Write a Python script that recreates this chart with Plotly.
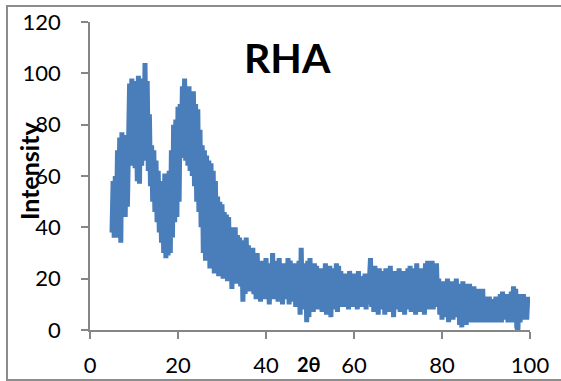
import numpy as np
import plotly.graph_objects as go

# XRD pattern of RHA
two_theta_start = 5.0
two_theta_step = 0.25
intensity = [
    38, 58, 36, 60, 40,
    70, 36, 75, 34, 77, 45, 76, 44, 74, 48,
    66, 96, 64, 98, 66, 95, 63, 97, 58, 99, 57, 96, 64, 98, 66, 104, 68, 97,
    62, 84, 56, 72, 50, 70, 46, 66, 42, 62, 38, 58, 34, 56,
    30, 61, 28, 56, 29, 62,
    30, 70, 36, 80, 42, 82, 44, 87, 50, 88,
    67, 95, 68, 98, 66, 94, 64, 95, 62, 92, 60, 93,
    56, 88, 50, 86, 46, 78, 40, 72, 30, 70,
    27, 68, 30, 66, 24, 65, 28, 62, 22, 58, 26, 52, 21, 50, 24, 49,
    20, 46, 23, 45, 19, 44, 22, 40, 16, 39, 20, 40, 18, 37, 21, 36,
    17, 35, 11, 34, 14, 36, 18, 33, 15, 30, 17, 32, 14, 28,
    12, 30, 13, 26, 11, 27, 15, 25, 12, 28, 14, 24, 10, 26, 13, 30, 12, 27, 15, 25, 11, 28, 13, 26, 10, 24,
    14, 26, 12, 28, 10, 27, 13, 25, 11, 26, 9, 24, 12, 27,
    6, 32, 8, 26, 10, 25,
    3, 27, 5, 28, 9, 24, 7, 26, 11, 25, 8, 23,
    10, 24, 7, 22, 9, 26, 6, 23, 10, 25, 5, 24, 8, 22, 11, 26, 7, 25, 9, 23, 10, 21,
    9, 22, 11, 20, 8, 23, 12, 21, 9, 22, 10, 19, 8, 23, 11, 21, 9, 20, 12, 22, 8, 21, 10, 23,
    28, 9, 24, 7, 25, 10, 22, 6, 24, 11, 23, 8, 21, 6, 24, 10, 22, 7, 25, 9, 21, 5, 23, 8, 22, 10, 24, 7, 21, 9, 23, 6, 22, 11, 24, 8,
    25, 7, 23, 10, 24, 6, 26, 9, 22, 7, 24, 11, 23, 6, 26, 9, 27, 8,
    26, 10, 27, 8, 24, 12, 26, 9,
    20, 6, 18, 4, 19, 7, 17, 5, 20, 3, 18, 6, 19, 4, 17, 7, 20, 5, 18, 2, 17, 1, 19, 4, 18, 2, 16, 5, 18,
    3, 16, 5, 17, 3, 15, 6, 16, 3, 14, 5, 16, 3, 13, 4,
    12, 3, 13, 5, 12, 3, 11, 4, 13, 3, 12, 5,
    14, 3, 15, 4, 13, 6, 14, 3, 12, 5, 15, 3,
    17, 4, 16, 1, 0, 14, 3,
    13, 4, 14, 5, 12, 4, 13,
]
two_theta = two_theta_start + two_theta_step * np.arange(len(intensity))

x_ticks = [0, 20, 40, 60, 80, 100]
y_ticks = [0, 20, 40, 60, 80, 100, 120]
chart_title = "RHA"
x_title = "2θ"
y_title = "Intensity"

W, H = 561, 381
L, R, T, B = 90, 31, 22, 51
pw, ph = W - L - R, H - T - B


def px(x):
    return (x - L) / pw


def py(y):
    return (H - B - y) / ph


fig = go.Figure()
fig.add_trace(go.Scatter(
    x=two_theta, y=intensity, mode="lines",
    line=dict(color="#4A7EBB", width=5),
    hoverinfo="skip", showlegend=False,
))

FONT = "Lato, Open Sans, sans-serif"
axis_font = dict(family=FONT, size=22, color="#000000")
fig.update_layout(
    width=W, height=H,
    margin=dict(l=L, r=R, t=T, b=B, pad=0, autoexpand=False),
    paper_bgcolor="white", plot_bgcolor="white",
    showlegend=False,
    xaxis=dict(
        range=[0, 100], tickvals=x_ticks, showgrid=False, zeroline=False,
        showline=True, linecolor="#868686", linewidth=1.5,
        ticks="outside", ticklen=7, tickcolor="#868686", tickwidth=1.5,
        tickfont=axis_font, ticklabelstandoff=8, automargin=False,
    ),
    yaxis=dict(
        range=[0, 120], tickvals=y_ticks, showgrid=False, zeroline=False,
        showline=True, linecolor="#868686", linewidth=1.5,
        ticks="outside", ticklen=7, tickcolor="#868686", tickwidth=1.5,
        tickfont=axis_font, ticklabelstandoff=16, automargin=False,
    ),
    shapes=[dict(
        type="rect", xref="paper", yref="paper",
        x0=px(7), x1=px(562), y0=py(380), y1=py(6),
        line=dict(color="#8c8c8c", width=2), fillcolor="rgba(0,0,0,0)",
        layer="below",
    )],
    annotations=[
        dict(text=f"<b>{chart_title}</b>", xref="paper", yref="paper", x=px(287), y=py(57),
             showarrow=False, xanchor="center", yanchor="middle",
             font=dict(family=FONT, size=41, color="#000000")),
        dict(text=f"<b>{x_title}</b>", xref="paper", yref="paper", x=px(309), y=py(364),
             showarrow=False, xanchor="center", yanchor="middle",
             font=dict(family=FONT, size=20, color="#000000")),
        dict(text=f"<b>{y_title}</b>", xref="paper", yref="paper", x=px(29), y=py(171),
             showarrow=False, xanchor="center", yanchor="middle", textangle=-90,
             font=dict(family=FONT, size=25, color="#000000")),
    ],
)

fig.write_html(
    "out.html",
    config={"displayModeBar": False},
    post_script="document.body.style.margin='0';document.body.style.overflow='hidden';",
)
